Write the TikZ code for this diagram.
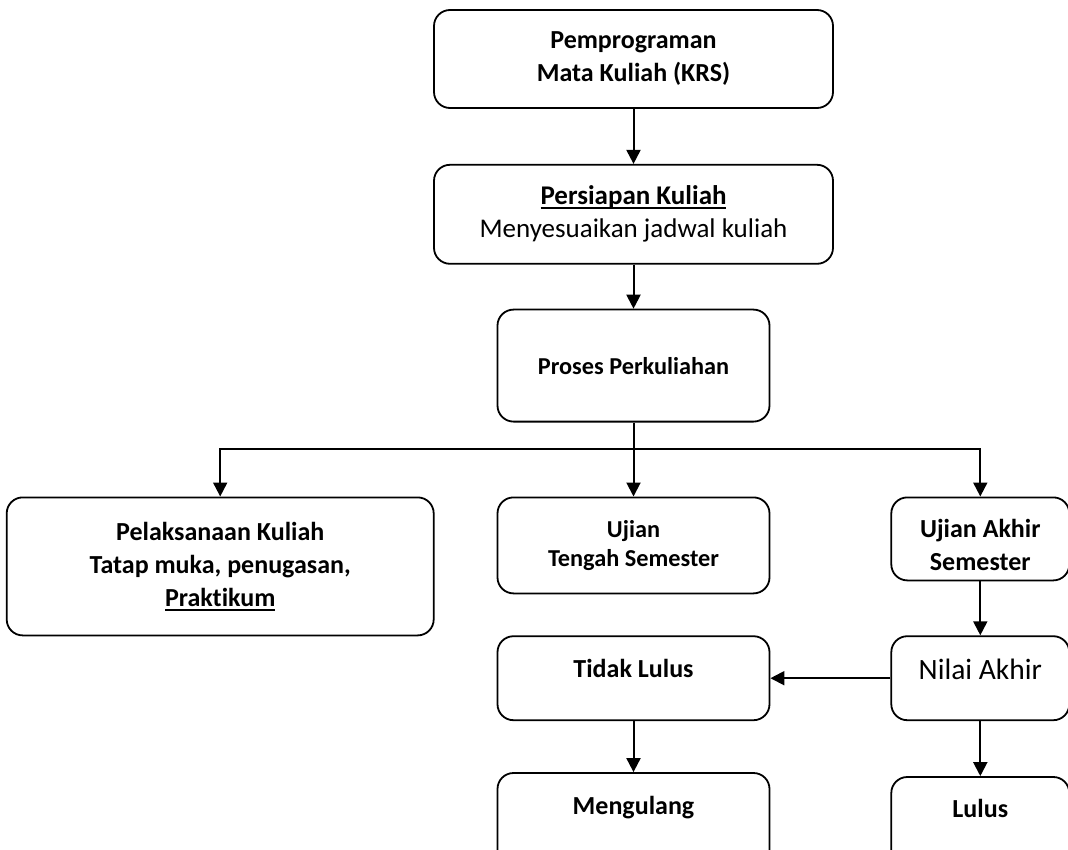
\documentclass[tikz,border=0pt]{standalone}
\usepackage{fontspec}
\setmainfont{Carlito}[Ligatures=NoCommon]
\usetikzlibrary{arrows.meta, positioning}
\tikzset{
    box/.style={rectangle, draw=black, rounded corners=16pt, line width=1.8pt,
        align=center, inner sep=0pt},
    arrow/.style={-{Triangle[length=14pt, width=14pt]}, line width=2pt}
}
\newcommand{\bigbf}{\fontsize{26}{33}\selectfont\bfseries}
\newcommand{\midbf}{\fontsize{24.3}{28.5}\selectfont\bfseries}
\newcommand{\bigrm}{\fontsize{27}{33}\selectfont}
\newcommand{\ulword}[1]{\setbox0=\hbox{#1}\rlap{\rule[-4pt]{\wd0}{1.8pt}}\box0}

\begin{document}
\begin{tikzpicture}
    \path[use as bounding box, clip] (0pt,0pt) rectangle (1068pt,-850pt);

    % main line
    \node[box, minimum width=399pt, minimum height=98pt, font=\bigbf] (krs) at (633.5pt,-59pt) {Pemprograman\\Mata Kuliah (KRS)};
    \node[box, minimum width=399pt, minimum height=99pt, font=\bigrm, below=55pt of krs] (siap) {{\bfseries\ulword{Persiapan Kuliah}}\\Menyesuaikan jadwal kuliah};
    \node[box, minimum width=272pt, minimum height=112pt, font=\midbf, below=44pt of siap] (proses) {Proses Perkuliahan};

    % three branches
    \node[box, minimum width=272pt, minimum height=96pt, font=\midbf, below=74pt of proses] (uts) {Ujian\\Tengah Semester};
    \node[box, minimum width=427pt, minimum height=138pt, font=\bigbf, left=62pt of uts.north west, anchor=north east] (kuliah) {Pelaksanaan Kuliah\\Tatap muka, penugasan,\\\ulword{Praktikum}};

    % result
    \node[box, minimum width=272pt, minimum height=84pt, font=\bigbf, text height=41.5pt, text depth=42.5pt, below=41pt of uts] (gagal) {Tidak Lulus};
    \node[box, minimum width=178pt, minimum height=84pt, font=\fontsize{29.5}{35}\selectfont, text height=43pt, text depth=41pt, right=120pt of gagal] (nilai) {Nilai Akhir};
    \node[box, minimum width=178pt, minimum height=83pt, font=\bigbf, above=54pt of nilai] (uas) {\rule{0pt}{31pt}Ujian Akhir\\Semester};
    \node[box, minimum width=272pt, font=\bigbf, text height=41.5pt, text depth=74.5pt, below=51pt of gagal] (ulang) {Mengulang};
    \node[box, minimum width=178pt, font=\bigbf, text height=40.5pt, text depth=73.5pt, below=55pt of nilai] (lulus) {Lulus};

    \coordinate[below=26pt of proses] (cabang);

    \draw[arrow] (krs) -- (siap);
    \draw[arrow] (siap) -- (proses);
    \draw[line width=2pt] (proses) -- (cabang);
    \draw[arrow] (cabang) -| (kuliah.north);
    \draw[arrow] (cabang) -- (uts);
    \draw[arrow] (cabang) -| (uas.north);
    \draw[arrow] (uas) -- (nilai);
    \draw[arrow] (nilai) -- (gagal);
    \draw[arrow] (gagal) -- (ulang);
    \draw[arrow] (nilai) -- (lulus);

\end{tikzpicture}
\end{document}
